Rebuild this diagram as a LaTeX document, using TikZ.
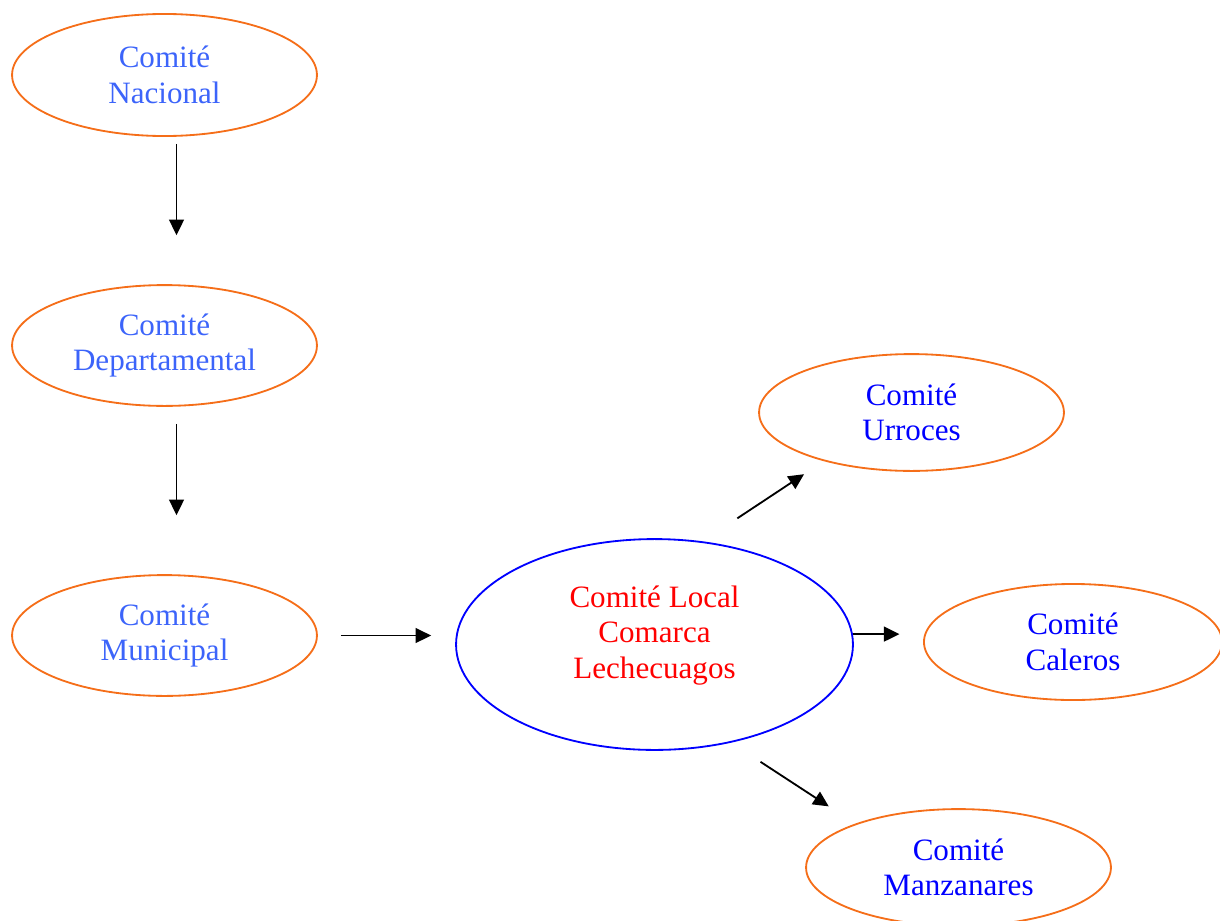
\documentclass[tikz,border=0pt]{standalone}
\usepackage{fontspec}
\setmainfont{Liberation Serif}
\usetikzlibrary{arrows.meta,shapes.geometric}
\definecolor{ringC}{RGB}{245,110,25}
\definecolor{upperC}{RGB}{60,100,250}
\definecolor{lowerC}{RGB}{0,0,255}
\definecolor{localC}{RGB}{255,0,0}

\begin{document}
\begin{tikzpicture}[x=0.025cm,y=-0.025cm,
    font=\fontsize{22.1}{25.3}\selectfont,>={Triangle[length=11pt,width=10.5pt]},
    comite/.style={ellipse,draw=ringC,line width=1.3pt,inner sep=2pt,
      minimum width=7.62cm,minimum height=3.0cm,align=center,text=lowerC},
    arr/.style={->,line width=1.3pt}]
  \useasboundingbox (0,0) rectangle (1220,920);
  % chain on the left
  \node[comite,text=upperC,minimum height=3.05cm] (nac) at (164.5,75) {Comité\\Nacional};
  \node[comite,text=upperC,minimum height=3.02cm] (dep) at (164.5,345.5) {Comité\\Departamental};
  \node[comite,text=upperC,minimum height=3.02cm] (mun) at (164.5,635.5) {Comité\\Municipal};
  % local committee, text sits a little above the middle
  \node[comite,draw=lowerC,text=localC,minimum width=9.92cm,minimum height=5.27cm]
    (loc) at (654.5,644.5)
    {\raisebox{0.225cm}[\height][\depth]{\begin{tabular}{@{}c@{}}Comité Local\\Comarca\\Lechecuagos\end{tabular}}};
  % communities
  \node[comite,minimum height=2.92cm] (urr) at (911.5,412.5) {Comité\\Urroces};
  \node[comite,minimum width=7.45cm,minimum height=2.9cm] (cal) at (1073,642) {Comité\\Caleros};
  \node[comite,minimum height=2.92cm] (man) at (958.5,867.5) {Comité\\Manzanares};
  \draw[arr,shorten <=0.175cm,shorten >=1.225cm] ([xshift=0.3cm]nac.south) -- ([xshift=0.3cm]dep.north);
  \draw[arr,shorten <=0.425cm,shorten >=1.475cm] ([xshift=0.3cm]dep.south) -- ([xshift=0.3cm]mun.north);
  \draw[arr,shorten <=0.575cm,shorten >=0.6cm] (mun.east) -- (mun.east -| loc.west);
  \draw[arr,shorten <=1.04cm,shorten >=0.59cm] (loc.65) -- (urr.209.4);
  \draw[arr,shorten >=0.59cm] (loc.3.3) -- (loc.3.3 -| cal.west);
  \draw[arr,shorten <=0.875cm,shorten >=0.79cm] (loc.-52) -- (man.157.2);
\end{tikzpicture}
\end{document}
